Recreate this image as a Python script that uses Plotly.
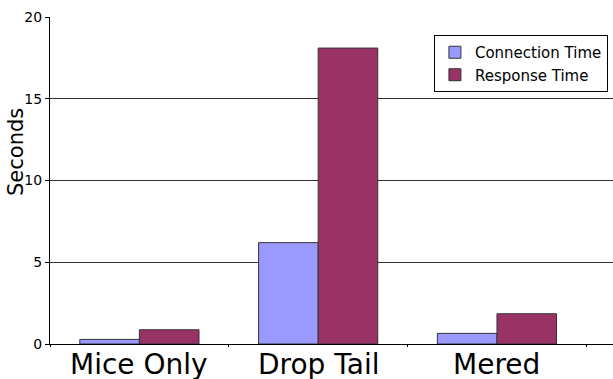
import plotly.graph_objects as go

categories = ["Mice Only", "Drop Tail", "Mered"]
connection_time = [0.28, 6.2, 0.65]
response_time = [0.87, 18.1, 1.85]
y_ticks = [0, 5, 10, 15, 20]

font = "DejaVu Sans"
fig = go.Figure()
fig.add_bar(x=categories, y=connection_time, name="Connection Time",
            marker=dict(color="#9999FF", line=dict(color="#333333", width=1)))
fig.add_bar(x=categories, y=response_time, name="Response Time",
            marker=dict(color="#993366", line=dict(color="#333333", width=1)))

fig.update_layout(
    width=613, height=379,
    margin=dict(l=50, r=0, t=17, b=35),
    paper_bgcolor="white", plot_bgcolor="white",
    barmode="group", bargap=1/3, bargroupgap=0,
    font=dict(family=font, color="black"),
    legend=dict(x=0.991, y=0.945, xanchor="right", yanchor="top",
                bordercolor="black", borderwidth=1, bgcolor="white",
                font=dict(size=15, family=font), tracegroupgap=0,
                itemwidth=30),
    showlegend=True,
)
fig.update_xaxes(
    type="category", range=[-0.5, 2.649], automargin=False,
    showline=True, linecolor="black", linewidth=1,
    ticks="outside", tickson="boundaries", ticklen=2, tickcolor="black",
    showticklabels=False, showgrid=False,
)
fig.update_yaxes(
    range=[0, 20], tickvals=y_ticks, automargin=False,
    showline=True, linecolor="black", linewidth=1,
    ticks="outside", ticklen=4, tickcolor="black",
    showgrid=True, gridcolor="#333333", gridwidth=1,
    tickfont=dict(size=14, family=font),
    zeroline=False,
)
for c in categories:
    fig.add_annotation(text=c, xref="x", yref="paper", x=c,
                       y=(344 - 364) / 327, xanchor="center", yanchor="middle",
                       showarrow=False,
                       font=dict(size=28, family=font, color="black"))
fig.add_annotation(text="Seconds", xref="paper", yref="paper",
                   x=(15.5 - 50) / 563, y=(344 - 152.5) / 327,
                   xanchor="center", yanchor="middle",
                   textangle=-90, showarrow=False,
                   font=dict(size=21, family=font, color="black"))
fig.write_html("out.html")
